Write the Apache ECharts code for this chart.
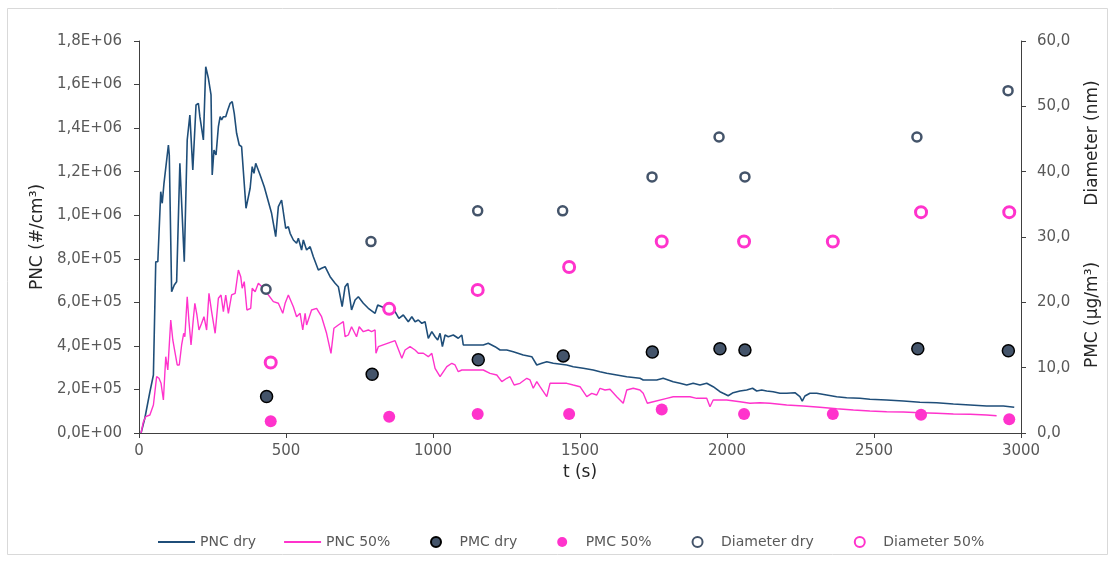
<!DOCTYPE html>
<html>
<head>
<meta charset="utf-8">
<script src="https://cdn.jsdelivr.net/npm/echarts@6/dist/echarts.min.js"></script>
<style>
  html, body { margin: 0; padding: 0; background: #fff; }
  #chart { width: 1116px; height: 563px; }
</style>
</head>
<body>
<div id="chart"></div>
<script>
// time (s), PNC (#/cm3)
const pncDry = [
  [7, 0], [20, 68900], [37, 188300], [49, 266300], [57, 786600], [64, 786600], [74, 1108000], [79, 1054800],
  [85, 1146600], [100, 1322500], [103, 1276600], [111, 648800], [120, 679600], [128, 694800], [139, 1238400],
  [145, 1245800], [154, 786600], [164, 1345500], [173, 1460300], [183, 1207700], [194, 1506200], [202, 1514000],
  [207, 1452400], [219, 1345500], [227, 1682100], [236, 1628800], [245, 1552100], [249, 1184700], [255, 1299500],
  [262, 1276600], [270, 1406500], [276, 1452400], [281, 1437300], [287, 1452400], [295, 1452400], [302, 1483200],
  [310, 1514000], [317, 1521300], [324, 1468000], [332, 1376200], [341, 1322500], [349, 1314700], [364, 1031800],
  [378, 1123700], [385, 1222900], [391, 1192500], [397, 1238400], [412, 1184700], [426, 1131000], [451, 1008900],
  [465, 901400], [474, 1039200], [485, 1069900], [491, 1069900], [499, 940000], [508, 947300], [514, 917000],
  [525, 886300], [536, 871100], [542, 894100], [553, 840300], [559, 886300], [570, 840300], [582, 855500],
  [593, 809600], [610, 748500], [621, 756300], [633, 763700], [650, 717700], [667, 687400], [678, 671800],
  [691, 580000], [701, 671800], [710, 687400], [723, 564800], [735, 610700], [746, 625900], [763, 595600],
  [780, 572600], [803, 549700], [812, 587800], [826, 580000], [848, 564800], [871, 557000], [884, 526700],
  [899, 541900], [916, 511100], [928, 534000], [939, 511100], [950, 518900], [962, 503700], [973, 511100],
  [984, 434900], [996, 465200], [1007, 442200], [1016, 427100], [1024, 457800], [1032, 396300], [1041, 450000],
  [1052, 442200], [1069, 450000], [1086, 434900], [1098, 450000], [1103, 404100], [1171, 404100], [1188, 411900],
  [1211, 396300], [1228, 381100], [1251, 381100], [1273, 373300], [1307, 358200], [1336, 350400], [1353, 312300],
  [1370, 320100], [1387, 327400], [1409, 320100], [1455, 312300], [1477, 304500], [1511, 297100], [1545, 289300],
  [1568, 281500], [1591, 274100], [1625, 266300], [1659, 258500], [1704, 251200], [1715, 243400], [1761, 243400],
  [1783, 251200], [1817, 235600], [1840, 228200], [1863, 220400], [1885, 228200], [1908, 220400], [1931, 228200],
  [1953, 212600], [1976, 189700], [1987, 182300], [2004, 171300], [2021, 185100], [2044, 192900], [2067, 197500],
  [2087, 205300], [2101, 192900], [2118, 197500], [2135, 192900], [2157, 189700], [2180, 182300], [2203, 182300],
  [2231, 185100], [2248, 166700], [2256, 146900], [2265, 169900], [2282, 182300], [2305, 182300], [2339, 174500],
  [2373, 166700], [2407, 162100], [2452, 159300], [2486, 154700], [2543, 151500], [2600, 146900], [2656, 140900],
  [2713, 139100], [2770, 133200], [2827, 128600], [2883, 124000], [2940, 124000], [2977, 118000]
];
const pnc50 = [
  [7, 0], [15, 51900], [23, 74800], [37, 82700], [49, 128600], [60, 258500], [68, 251200], [75, 228200],
  [83, 151500], [91, 350400], [98, 289300], [108, 518900], [115, 427100], [122, 373300], [130, 312300],
  [137, 312300], [145, 404100], [152, 457800], [156, 442200], [164, 625900], [170, 511100], [177, 404100],
  [185, 526700], [190, 595600], [197, 541900], [204, 473000], [213, 503700], [221, 534000], [230, 473000],
  [238, 641500], [247, 557000], [259, 457800], [270, 618500], [279, 633700], [287, 557000], [295, 633700],
  [304, 549700], [315, 633700], [327, 641500], [338, 748500], [346, 717700], [351, 664500], [358, 694800],
  [367, 564800], [380, 572600], [385, 664500], [395, 648800], [406, 687400], [423, 664500], [457, 602900],
  [474, 595600], [489, 549700], [497, 595600], [508, 633700], [525, 580000], [536, 534000], [548, 549700],
  [557, 473000], [565, 549700], [570, 495900], [587, 564800], [604, 572600], [621, 534000], [638, 457800],
  [653, 366000], [663, 480800], [678, 495900], [695, 511100], [701, 442200], [712, 450000], [723, 488100],
  [740, 442200], [749, 488100], [763, 465200], [780, 473000], [791, 465200], [803, 473000], [806, 366000],
  [814, 396300], [871, 423800], [894, 343000], [905, 381100], [922, 396300], [939, 381100], [950, 366000],
  [967, 366000], [984, 350400], [996, 366000], [1007, 297100], [1024, 258500], [1047, 304500], [1064, 320100],
  [1075, 312300], [1086, 281500], [1098, 289300], [1171, 289300], [1194, 274100], [1217, 266300], [1234, 235600],
  [1251, 251200], [1262, 258500], [1276, 220400], [1296, 228200], [1319, 251200], [1330, 243400], [1341, 205300],
  [1353, 235600], [1364, 212600], [1387, 166700], [1398, 228200], [1415, 228200], [1455, 228200], [1477, 220400],
  [1500, 212600], [1523, 166700], [1540, 182300], [1557, 174500], [1568, 205300], [1585, 197500], [1602, 200700],
  [1625, 166700], [1647, 136400], [1659, 197500], [1681, 205300], [1704, 197500], [1715, 182300], [1729, 136400],
  [1749, 143700], [1795, 159300], [1817, 166700], [1874, 166700], [1897, 159300], [1931, 159300], [1942, 120800],
  [1953, 151500], [1999, 151500], [2044, 143700], [2078, 136400], [2112, 139100], [2146, 136400], [2203, 128600],
  [2260, 124000], [2316, 118000], [2373, 111600], [2430, 105600], [2486, 101000], [2543, 97800], [2600, 96400],
  [2656, 93200], [2713, 90500], [2770, 87200], [2827, 85900], [2883, 82700], [2917, 79400]
];
// time (s), PMC (ug/m3)
const pmcDry = [[434, 5.6], [793, 9.0], [1154, 11.2], [1443, 11.8], [1746, 12.4], [1976, 12.9], [2061, 12.7], [2649, 12.9], [2957, 12.6]];
const pmc50 = [[448, 1.8], [851, 2.5], [1152, 2.9], [1463, 2.9], [1778, 3.6], [2058, 2.9], [2360, 2.9], [2660, 2.8], [2960, 2.1]];
// time (s), diameter (nm)
const diamDry = [[432, 22.0], [789, 29.3], [1152, 34.0], [1441, 34.0], [1745, 39.2], [1973, 45.3], [2061, 39.2], [2646, 45.3], [2956, 52.4]];
const diam50 = [[448, 10.8], [851, 19.0], [1152, 21.9], [1463, 25.4], [1778, 29.3], [2058, 29.3], [2360, 29.3], [2660, 33.8], [2960, 33.8]];

const FONT = '"DejaVu Sans", sans-serif';
const GREY = '#595959';
const DARK = '#44546A';
const BLUE = '#1F4E79';
const PINK = '#FF33CC';

function sci(v) {
  return v.toExponential(1).replace('.', ',')
    .replace(/e([+-])(\d+)/, (m, s, d) => 'E' + s + d.padStart(2, '0'));
}

const legendText = { color: GREY, fontSize: 14, fontFamily: FONT };
const LINE_ICON = 'path://M0,0 L37,0 L37,2 L0,2 Z';

const chart = echarts.init(document.getElementById('chart'));
chart.setOption({
  backgroundColor: '#fff',
  animation: false,
  textStyle: { fontFamily: FONT },
  grid: { left: 139, right: 95, top: 41, bottom: 130 },
  graphic: [
    { type: 'rect', shape: { x: 7.5, y: 8.5, width: 1100, height: 546 },
      style: { fill: 'none', stroke: '#d9d9d9', lineWidth: 1 }, silent: true },
    { type: 'text', x: 1093, y: 143, rotation: Math.PI / 2,
      style: { text: 'Diameter (nm)', font: '17px ' + FONT, fill: '#262626', align: 'center', verticalAlign: 'middle' } },
    { type: 'text', x: 1093, y: 315, rotation: Math.PI / 2,
      style: { text: 'PMC (µg/m³)', font: '17px ' + FONT, fill: '#262626', align: 'center', verticalAlign: 'middle' } }
  ],
  legend: [
    {
      bottom: 9, left: 153, itemWidth: 37, itemHeight: 10, itemGap: 28, textStyle: legendText,
      data: [{ name: 'PNC dry', icon: LINE_ICON }, { name: 'PNC 50%', icon: LINE_ICON }]
    },
    {
      bottom: 9, left: 425, itemWidth: 37, itemHeight: 10, itemGap: 40, textStyle: legendText,
      data: ['PMC dry', 'PMC 50%', 'Diameter dry', 'Diameter 50%']
    }
  ],
  xAxis: {
    type: 'value', min: 0, max: 3000, interval: 500,
    name: 't (s)', nameLocation: 'middle', nameGap: 27,
    nameTextStyle: { color: '#262626', fontSize: 17, fontFamily: FONT },
    axisLine: { lineStyle: { color: '#404040' } },
    axisTick: { show: true, length: 5, lineStyle: { color: '#404040' } },
    axisLabel: { color: GREY, fontSize: 15, margin: 11, formatter: v => String(v) },
    splitLine: { show: false }
  },
  yAxis: [
    {
      type: 'value', min: 0, max: 1800000, interval: 200000,
      name: 'PNC (#/cm³)', nameLocation: 'middle', nameGap: 77, nameRotate: 90,
      nameTextStyle: { color: '#262626', fontSize: 17, fontFamily: FONT },
      axisLine: { show: true, lineStyle: { color: '#404040' } },
      axisTick: { show: true, length: 5, lineStyle: { color: '#404040' } },
      axisLabel: { color: GREY, fontSize: 15, margin: 17, formatter: sci },
      splitLine: { show: false }
    },
    {
      type: 'value', min: 0, max: 60, interval: 10, position: 'right',
      axisLine: { show: true, lineStyle: { color: '#404040' } },
      axisTick: { show: true, length: 5, lineStyle: { color: '#404040' } },
      axisLabel: { color: GREY, fontSize: 15, margin: 16, formatter: v => v.toFixed(1).replace('.', ',') },
      splitLine: { show: false }
    }
  ],
  series: [
    { name: 'PNC dry', type: 'line', yAxisIndex: 0, data: pncDry, showSymbol: false,
      lineStyle: { color: BLUE, width: 1.6 }, itemStyle: { color: BLUE } },
    { name: 'PNC 50%', type: 'line', yAxisIndex: 0, data: pnc50, showSymbol: false,
      lineStyle: { color: PINK, width: 1.4 }, itemStyle: { color: PINK } },
    { name: 'PMC dry', type: 'scatter', yAxisIndex: 1, data: pmcDry, symbolSize: 12, z: 5,
      itemStyle: { color: DARK, borderColor: '#000', borderWidth: 1.5, opacity: 1 } },
    { name: 'PMC 50%', type: 'scatter', yAxisIndex: 1, data: pmc50, symbolSize: 12, z: 5,
      itemStyle: { color: PINK, opacity: 1 } },
    { name: 'Diameter dry', type: 'scatter', yAxisIndex: 1, data: diamDry, symbolSize: 9, z: 5,
      itemStyle: { color: '#fff', borderColor: DARK, borderWidth: 2.5, opacity: 1 } },
    { name: 'Diameter 50%', type: 'scatter', yAxisIndex: 1, data: diam50, symbolSize: 11, z: 5,
      itemStyle: { color: '#fff', borderColor: PINK, borderWidth: 3, opacity: 1 } }
  ]
});
</script>
</body>
</html>
